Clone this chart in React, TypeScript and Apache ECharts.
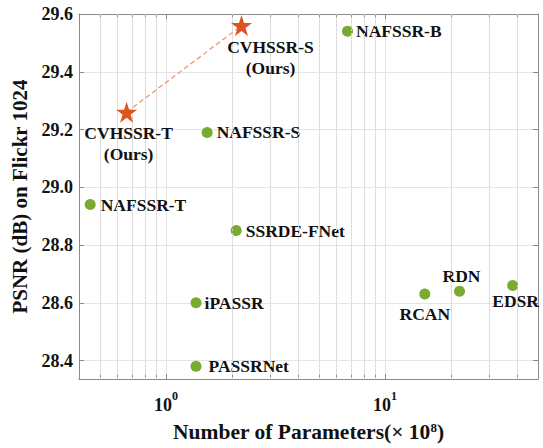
import React, { useEffect, useRef } from "react";
import * as echarts from "echarts";

const otherNames = ["NAFSSR-B", "NAFSSR-S", "NAFSSR-T", "SSRDE-FNet", "iPASSR", "PASSRNet", "RCAN", "RDN", "EDSR"];
const otherParams = [6.74, 1.54, 0.45, 2.09, 1.37, 1.37, 15.2, 21.9, 38.3];
const otherPsnr = [29.54, 29.19, 28.94, 28.85, 28.6, 28.38, 28.63, 28.64, 28.66];

const oursNames = ["CVHSSR-T\n(Ours)", "CVHSSR-S\n(Ours)"];
const oursParams = [0.66, 2.21];
const oursPsnr = [29.26, 29.56];

const yTicks = [28.4, 28.6, 28.8, 29.0, 29.2, 29.4, 29.6];
const xMajor = [1, 10];
const xMinor = [0.4, 0.5, 0.6, 0.7, 0.8, 0.9, 2, 3, 4, 5, 6, 7, 8, 9, 20, 30, 40, 50];

const X_MIN = 0.4;
const X_MAX = 50;
const Y_MIN = 28.336;
const Y_MAX = 29.6;

const FONT = "'Liberation Serif', 'Times New Roman', serif";
const STAR = "path://M50,0 L61.8,35.3 L99,35.3 L68.9,57.1 L80.3,92.7 L50,70.6 L19.7,92.7 L31.1,57.1 L1,35.3 L38.2,35.3 Z";

type LabelCfg = { position: string; distance: number; offset?: [number, number] };
const otherLabel: Record<string, LabelCfg> = {
  "NAFSSR-B": { position: "right", distance: 3 },
  "NAFSSR-S": { position: "right", distance: 4 },
  "NAFSSR-T": { position: "right", distance: 5 },
  "SSRDE-FNet": { position: "right", distance: 4 },
  iPASSR: { position: "right", distance: 3 },
  PASSRNet: { position: "right", distance: 7 },
  RCAN: { position: "bottom", distance: 4 },
  RDN: { position: "top", distance: 0, offset: [2, 0] },
  EDSR: { position: "bottom", distance: 0, offset: [3, 0] },
};
const oursLabel: LabelCfg[] = [
  { position: "bottom", distance: 0, offset: [2, 0] },
  { position: "bottom", distance: 0, offset: [29, 0] },
];

const axisGray = "#8a8a8a";
const TXT = "#111111";

export default function App() {
  const ref = useRef<HTMLDivElement>(null);
  useEffect(() => {
    if (!ref.current) return;
    const chart = echarts.init(ref.current, undefined, { renderer: "svg" });
    const labelStyle = { fontFamily: FONT, fontWeight: "bold", fontSize: 17.5, color: TXT, lineHeight: 21 };
    const fmtPow = (v: number) => {
      const l = Math.log10(v);
      if (Math.abs(l - Math.round(l)) < 1e-6) return `{a|10}{b|${Math.round(l)}}`;
      return "";
    };
    const allXTicks = [...xMinor, ...xMajor].sort((a, b) => a - b);
    chart.setOption({
      animation: false,
      grid: { left: 79, top: 14, right: 5, bottom: 65, containLabel: false },
      xAxis: [
        {
          type: "log",
          logBase: 10,
          min: X_MIN,
          max: X_MAX,
          position: "bottom",
          name: "Number of Parameters(× 10{s|8})",
          nameLocation: "middle",
          nameGap: 42,
          nameTextStyle: {
            fontFamily: FONT,
            fontWeight: "bold",
            fontSize: 21.5,
            color: TXT,
            rich: { s: { fontFamily: FONT, fontWeight: "bold", fontSize: 13, verticalAlign: "top", padding: [0, 0, 8, 0], color: TXT } },
          },
          axisLine: { show: true, lineStyle: { color: axisGray, width: 1 } },
          axisTick: { show: true, inside: true, length: 5, lineStyle: { color: axisGray }, customValues: allXTicks },
          axisLabel: {
            margin: 11,
            formatter: fmtPow,
            customValues: xMajor,
            rich: {
              a: { fontFamily: FONT, fontWeight: "bold", fontSize: 18, color: TXT, lineHeight: 24, verticalAlign: "bottom" },
              b: { fontFamily: FONT, fontWeight: "bold", fontSize: 12, color: TXT, lineHeight: 12, verticalAlign: "top" },
            },
          },
          splitLine: { show: true, lineStyle: { color: "#e4e4e4", width: 1 } },
        },
        {
          type: "log",
          logBase: 10,
          min: X_MIN,
          max: X_MAX,
          position: "top",
          axisLine: { show: true, lineStyle: { color: axisGray, width: 1 } },
          axisTick: { show: true, inside: true, length: 5, lineStyle: { color: axisGray }, customValues: allXTicks },
          axisLabel: { show: false },
          splitLine: { show: false },
        },
      ],
      yAxis: [
        {
          type: "value",
          min: Y_MIN,
          max: Y_MAX,
          position: "left",
          name: "PSNR (dB) on Flickr 1024",
          nameLocation: "middle",
          nameGap: 46,
          nameTextStyle: { fontFamily: FONT, fontWeight: "bold", fontSize: 21, color: TXT },
          axisLine: { show: true, lineStyle: { color: axisGray, width: 1 } },
          axisTick: { show: true, inside: true, length: 5, lineStyle: { color: axisGray }, customValues: yTicks },
          axisLabel: {
            margin: 6,
            customValues: yTicks,
            formatter: (v: number) => v.toFixed(1),
            fontFamily: FONT,
            fontWeight: "bold",
            fontSize: 18,
            color: TXT,
          },
          splitLine: { show: true, lineStyle: { color: "#e4e4e4", width: 1 } },
        },
        {
          type: "value",
          min: Y_MIN,
          max: Y_MAX,
          position: "right",
          axisLine: { show: true, lineStyle: { color: axisGray, width: 1 } },
          axisTick: { show: true, inside: true, length: 5, lineStyle: { color: axisGray }, customValues: yTicks },
          axisLabel: { show: false },
          splitLine: { show: false },
        },
      ],
      series: [
        {
          type: "scatter",
          name: "grid-minor",
          data: [],
          silent: true,
          markLine: {
            silent: true,
            symbol: "none",
            label: { show: false },
            lineStyle: { color: "#d6d6d6", type: [2, 2], width: 1 },
            data: xMinor.filter((v) => v > X_MIN && v < X_MAX).map((v) => ({ xAxis: v })),
          },
        },
        {
          type: "line",
          name: "ours",
          data: oursParams.map((x, i) => ({
            value: [x, oursPsnr[i]],
            name: oursNames[i],
            label: { show: true, ...oursLabel[i], formatter: "{b}", ...labelStyle },
          })),
          symbol: STAR,
          symbolSize: 21,
          itemStyle: { color: "#E0531E" },
          lineStyle: { color: "#EE9068", width: 1.2, type: [5, 3] },
          z: 5,
        },
        {
          type: "scatter",
          name: "others",
          data: otherParams.map((x, i) => ({
            value: [x, otherPsnr[i]],
            name: otherNames[i],
            label: { show: true, ...otherLabel[otherNames[i]], formatter: "{b}", ...labelStyle, lineHeight: 20 },
          })),
          symbol: "circle",
          symbolSize: 11,
          itemStyle: { color: "#77AC30", opacity: 1 },
          z: 4,
        },
      ],
    });
    return () => chart.dispose();
  }, []);
  return <div ref={ref} style={{ width: 543, height: 448, position: "absolute", left: 0, top: 0 }} />;
}
